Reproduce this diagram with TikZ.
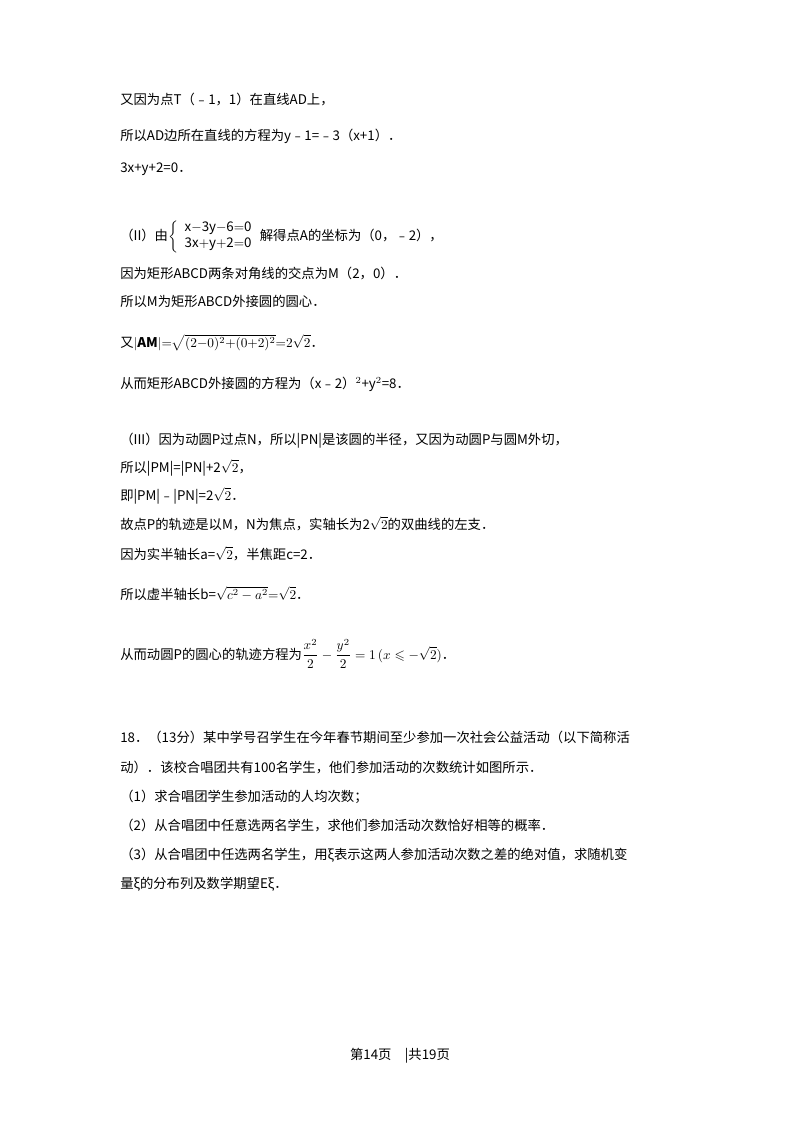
\documentclass[tikz,border=0pt]{standalone}
\usepackage{amsmath,amssymb}
\usepackage{fontspec}
\setmainfont{Noto Sans CJK SC}
\begin{document}
\begin{tikzpicture}[x=0.75pt,y=-0.75pt,
  ln/.style={anchor=base west,inner sep=0pt,font=\fontsize{10}{12}\selectfont}]
\useasboundingbox (0,0) rectangle (800,1132);
\node[ln] (l1) at (120,104) {又因为点T（﹣1，1）在直线AD上，};
\node[ln] (l2) at (120,140) {所以AD边所在直线的方程为y﹣1=﹣3（x+1）．};
\node[ln] (l3) at (120,172) {3x+y+2=0．};
\node[ln] (l4) at (120,240) {（II）由$\left\{\begin{array}{l}\mathrm{x{-}3y{-}6{=}0}\\ \mathrm{3x{+}y{+}2{=}0}\end{array}\right.$解得点A的坐标为（0，﹣2），};
\node[ln] (l5) at (120,278) {因为矩形ABCD两条对角线的交点为M（2，0）．};
\node[ln] (l6) at (120,306) {所以M为矩形ABCD外接圆的圆心．};
\node[ln] (l7) at (120,347) {又$|\mathbf{AM}|{=}\sqrt{(2{-}0)^{2}{+}(0{+}2)^{2}}{=}2\sqrt{2}$．};
\node[ln] (l8) at (120,388) {从而矩形ABCD外接圆的方程为（x﹣2）$^2$+y$^2$=8．};
\node[ln] (l9) at (120,444) {（III）因为动圆P过点N，所以|PN|是该圆的半径，又因为动圆P与圆M外切，};
\node[ln] (l10) at (120,472) {所以|PM|=|PN|+2$\sqrt{2}$，};
\node[ln] (l11) at (120,500) {即|PM|﹣|PN|=2$\sqrt{2}$．};
\node[ln] (l12) at (120,529) {故点P的轨迹是以M，N为焦点，实轴长为2$\sqrt{2}$的双曲线的左支．};
\node[ln] (l13) at (120,559) {因为实半轴长a=$\sqrt{2}$，半焦距c=2．};
\node[ln] (l14) at (120,599) {所以虚半轴长b=$\sqrt{c^{2}-a^{2}}{=}\sqrt{2}$．};
\node[ln] (l15) at (120,659) {从而动圆P的圆心的轨迹方程为$\dfrac{x^2}{2}-\dfrac{y^2}{2}=1\,(x\leqslant-\sqrt{2})$．};
\node[ln] (l16) at (120,742) {18．（13分）某中学号召学生在今年春节期间至少参加一次社会公益活动（以下简称活};
\node[ln] (l17) at (120,772) {动）．该校合唱团共有100名学生，他们参加活动的次数统计如图所示．};
\node[ln] (l18) at (120,801) {（1）求合唱团学生参加活动的人均次数；};
\node[ln] (l19) at (120,830) {（2）从合唱团中任意选两名学生，求他们参加活动次数恰好相等的概率．};
\node[ln] (l20) at (120,859) {（3）从合唱团中任选两名学生，用ξ表示这两人参加活动次数之差的绝对值，求随机变};
\node[ln] (l21) at (120,888) {量ξ的分布列及数学期望Eξ．};
\node[ln,anchor=base] (ft) at (400,1059) {第14页　|共19页};
\end{tikzpicture}
\end{document}
